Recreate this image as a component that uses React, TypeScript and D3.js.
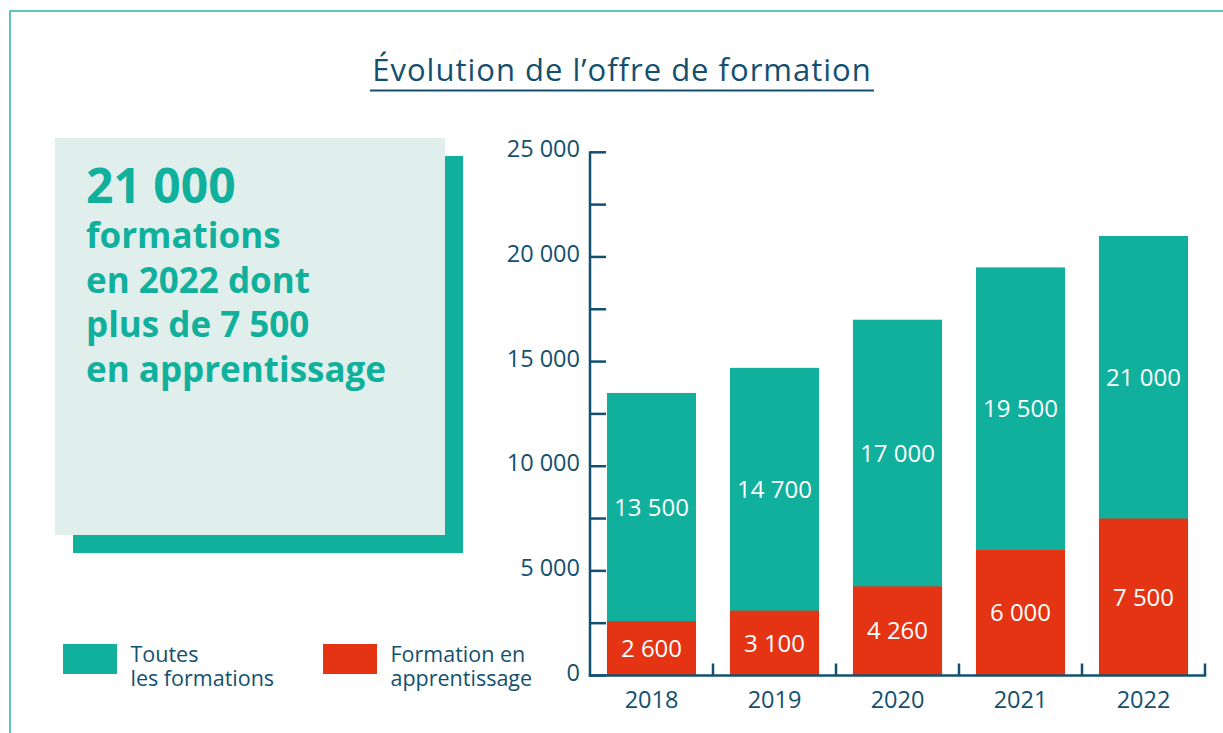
import React from "react";
import * as d3 from "d3";

const years = ["2018", "2019", "2020", "2021", "2022"];
const toutes = [13500, 14700, 17000, 19500, 21000];
const apprentissage = [2600, 3100, 4260, 6000, 7500];
const yTicks = [0, 2500, 5000, 7500, 10000, 12500, 15000, 17500, 20000, 22500, 25000];
const yLabels = [0, 5000, 10000, 15000, 20000, 25000];
const title = "Évolution de l’offre de formation";
const calloutBig = "21 000";
const calloutLines = ["formations", "en 2022 dont", "plus de 7 500", "en apprentissage"];
const legendItems = [
  { key: "toutes", lines: ["Toutes", "les formations"] },
  { key: "appr", lines: ["Formation en", "apprentissage"] },
];

const TEAL = "#10b09c";
const RED = "#e43414";
const DARK = "#13506f";
const FONT = "'Open Sans', Lato, sans-serif";

const loc = d3.formatLocale({ decimal: ",", thousands: "\u00a0", grouping: [3], currency: ["", "€"] });
const fmt = loc.format(",d");

export default function App() {
  const W = 1223, H = 733;
  const x0 = 590, x1 = 1205, yBase = 675.5, yTop = 152.3;
  const x = d3.scaleBand<string>().domain(years).range([x0, x1]).paddingInner(0.276).paddingOuter(0.138);
  const y = d3.scaleLinear().domain([0, 25000]).range([yBase, yTop]);
  const step = x.step();

  return (
    <svg width={W} height={H} style={{ position: "absolute", left: 0, top: 0, background: "#fff" }} fontFamily={FONT}>
      <rect x={10} y={11} width={W + 20} height={H + 20} fill="none" stroke="#2bb5a0" strokeWidth={1.5} />
      {/* title */}
      <text x={622} y={81} textAnchor="middle" fontSize={31} letterSpacing={1} fill={DARK}>{title}</text>
      <line x1={370} x2={874} y1={90.5} y2={90.5} stroke={DARK} strokeWidth={2.2} />

      {/* callout */}
      <rect x={73} y={156} width={390} height={397} fill={TEAL} />
      <rect x={55} y={138} width={390} height={397} fill="#e0efec" />
      <text x={86} y={203} fontSize={48} fontWeight={700} fill={TEAL}>{calloutBig}</text>
      {calloutLines.map((l, i) => (
        <text key={l} x={86} y={248 + i * 44.5} fontSize={35} fontWeight={700} fill={TEAL}>{l}</text>
      ))}

      {/* legend */}
      {legendItems.map((it, i) => {
        const lx = 63 + i * 260;
        return (
          <g key={it.key}>
            <rect x={lx} y={644} width={54} height={30} fill={i === 0 ? TEAL : RED} />
            {it.lines.map((t, j) => (
              <text key={t} x={lx + 67.5} y={662 + j * 24} fontSize={21.5} fill={DARK}>{t}</text>
            ))}
          </g>
        );
      })}

      {/* bars */}
      {years.map((yr, i) => (
        <g key={yr}>
          <rect x={x(yr)} y={y(toutes[i])} width={x.bandwidth()} height={yBase - y(toutes[i])} fill={TEAL} />
          <rect x={x(yr)} y={y(apprentissage[i])} width={x.bandwidth()} height={yBase - y(apprentissage[i])} fill={RED} />
          <text x={x(yr)! + x.bandwidth() / 2} y={(y(toutes[i]) + y(apprentissage[i])) / 2 + 8.5} textAnchor="middle" fontSize={24} fill="#fff">{fmt(toutes[i])}</text>
          <text x={x(yr)! + x.bandwidth() / 2} y={(y(apprentissage[i]) + yBase) / 2 + 8.5} textAnchor="middle" fontSize={24} fill="#fff">{fmt(apprentissage[i])}</text>
          <text x={x(yr)! + x.bandwidth() / 2} y={708} textAnchor="middle" fontSize={23.5} fill={DARK}>{yr}</text>
        </g>
      ))}

      {/* y axis */}
      <line x1={x0} x2={x0} y1={yTop - 1} y2={yBase + 1.2} stroke={DARK} strokeWidth={2.5} />
      {yTicks.map((t) => (
        <line key={t} x1={x0} x2={x0 + 16} y1={y(t)} y2={y(t)} stroke={DARK} strokeWidth={2.5} />
      ))}
      {yLabels.map((t) => (
        <text key={t} x={580} y={y(t) + 5} textAnchor="end" fontSize={23.5} fill={DARK}>{fmt(t)}</text>
      ))}

      {/* x axis */}
      <line x1={x0 - 1.2} x2={x1 + 1.2} y1={yBase} y2={yBase} stroke={DARK} strokeWidth={2.5} />
      {years.map((yr, i) => (
        <line key={yr} x1={x0 + step * (i + 1)} x2={x0 + step * (i + 1)} y1={yBase} y2={yBase - 12} stroke={DARK} strokeWidth={2.5} />
      ))}
    </svg>
  );
}
